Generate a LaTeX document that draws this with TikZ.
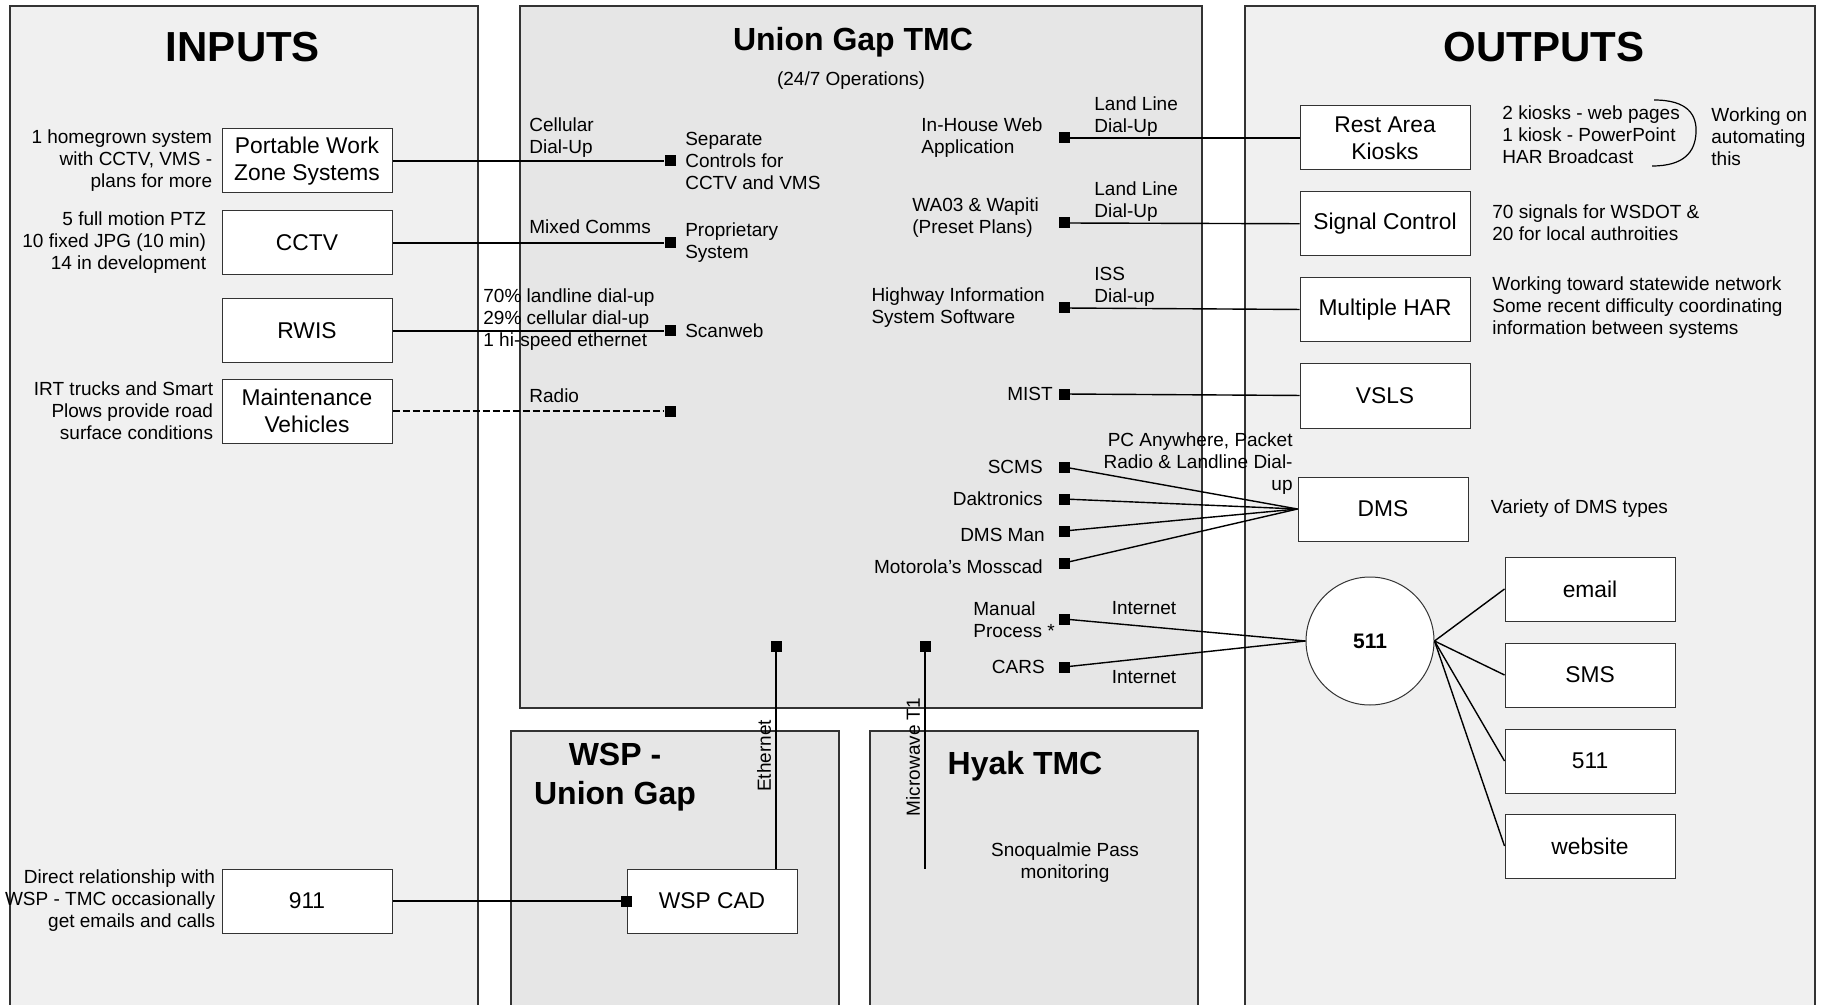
\documentclass[tikz,border=0pt]{standalone}
\usepackage{fontspec}
\setmainfont{Liberation Sans}
\usetikzlibrary{positioning, calc}
\definecolor{panelLight}{HTML}{F0F0F0}
\definecolor{panelGrey}{HTML}{E6E6E6}

\begin{document}
\begin{tikzpicture}[
    x=0.5pt, y=-0.5pt,
    panel/.style={draw=black!80, line width=0.8pt},
    box/.style={rectangle, draw=black!80, fill=white, line width=0.5pt, minimum width=85pt, minimum height=32pt, align=center, inner sep=1pt, font=\fontsize{11.4}{13.5}\selectfont},
    note/.style={inner sep=0pt, font=\fontsize{9.5}{11}\selectfont},
    term/.style={rectangle, fill=black, minimum size=5.5pt, inner sep=0pt},
    link/.style={line width=0.7pt},
    radiolink/.style={line width=1.3pt, dash pattern=on 3.5pt off 1.5pt},
    bigtitle/.style={font=\bfseries\fontsize{21}{24}\selectfont},
    subtitle/.style={align=center, font=\bfseries\fontsize{16}{19.5}\selectfont},
]
    \useasboundingbox (0,0) rectangle (1824,1005);

    % Panels
    \filldraw[panel, fill=panelLight] (10,6) rectangle (478,1015);
    \filldraw[panel, fill=panelGrey] (520,6) rectangle (1202,708);
    \filldraw[panel, fill=panelLight] (1245,6) rectangle (1815,1015);
    \filldraw[panel, fill=panelGrey] (511,731) rectangle (839,1015);
    \filldraw[panel, fill=panelGrey] (870,731) rectangle (1198,1015);

    % Titles
    \node[bigtitle] (inTitle) at (243,47) {INPUTS};
    \node[bigtitle] (outTitle) at (1544,47) {OUTPUTS};
    \node[subtitle] (tmcTitle) at (853,42) {Union Gap TMC};
    \node[note] (tmcOps) at (851,81) {(24/7 Operations)};
    \node[subtitle] (wspTitle) at (615,777) {WSP -\\Union Gap};
    \node[subtitle] (hyakTitle) at (1025,766) {Hyak TMC};
    \node[note, align=center] (hyakNote) at (1065,863) {Snoqualmie Pass\\monitoring};

    % Inputs
    \node[box] (pwz) at (307,161) {Portable Work\\Zone Systems};
    \node[box] (cctv) at (307,243) {CCTV};
    \node[box] (rwis) at (307,331) {RWIS};
    \node[box] (maint) at (307,411) {Maintenance\\Vehicles};
    \node[box] (nine) at (307,901) {911};
    \node[note, align=right, left=4.5pt of pwz] (pwzNote) {1 homegrown system\\with CCTV, VMS -\\plans for more};
    \node[note, align=right, left=7.5pt of cctv] (cctvNote) {5 full motion PTZ\\10 fixed JPG (10 min)\\14 in development};
    \node[note, align=right, left=4pt of maint] (maintNote) {IRT trucks and Smart\\Plows provide road\\surface conditions};
    \node[note, align=right, left=3pt of nine] (nineNote) {Direct relationship with\\WSP - TMC occasionally\\get emails and calls};

    % WSP
    \node[box] (cad) at (712,901) {WSP CAD};
    \node[term] (tCad) at (cad.west) {};

    % TMC terminals, input side
    \node[term] (tPwz) at (670,161) {};
    \node[term] (tCctv) at (670,243) {};
    \node[term] (tRwis) at (670,331) {};
    \node[term] (tMaint) at (670,411) {};
    \node[note, align=left, right=4.5pt of tPwz] (pwzSys) {Separate\\Controls for\\CCTV and VMS};
    \node[note, align=left, right=4.5pt of tCctv] (cctvSys) {Proprietary\\System};
    \node[note, right=4.5pt of tRwis] (rwisSys) {Scanweb};
    \node[note, anchor=west, align=left] (pwzComm) at (529,138) {Cellular\\Dial-Up};
    \node[note, anchor=west] (cctvComm) at (529,227) {Mixed Comms};
    \node[note, anchor=west, align=left] (rwisComm) at (483,320) {70\% landline dial-up\\29\% cellular dial-up\\1 hi-speed ethernet};
    \node[note, anchor=west] (maintComm) at (529,396) {Radio};

    % TMC terminals, output side
    \node[term] (tWeb) at (1064,138) {};
    \node[term] (tWapiti) at (1064,223) {};
    \node[term] (tHis) at (1064,308) {};
    \node[term] (tMist) at (1064,394) {};
    \node[term] (tScms) at (1064,467) {};
    \node[term] (tDak) at (1064,499) {};
    \node[term] (tDmsMan) at (1064,531) {};
    \node[term] (tMoss) at (1064,563) {};
    \node[term] (tManual) at (1064,619) {};
    \node[term] (tCars) at (1064,667) {};
    \node[term] (tEth) at (776,646) {};
    \node[term] (tMicro) at (925,646) {};
    \coordinate (microEnd) at (925,869);

    \node[note, anchor=west, align=left] (webSys) at (921,138) {In-House Web\\Application};
    \node[note, anchor=west, align=left] (wapSys) at (912,218) {WA03 \& Wapiti\\(Preset Plans)};
    \node[note, align=left, left=6.5pt of tHis] (hisSys) {Highway Information\\System Software};
    \node[note, left=2.5pt of tMist] (mistSys) {MIST};
    \node[note, left=7.5pt of tScms] (scmsSys) {SCMS};
    \node[note, left=7.5pt of tDak] (dakSys) {Daktronics};
    \node[note, left=6.5pt of tDmsMan, yshift=-2pt] (dmsManSys) {DMS Man};
    \node[note, left=7.5pt of tMoss, yshift=-2pt] (mossSys) {Motorola's Mosscad};
    \node[note, anchor=west, align=left] (manualSys) at (973,620) {Manual\\Process *};
    \node[note, left=6.5pt of tCars] (carsSys) {CARS};

    \node[note, anchor=west, align=left] (webComm) at (1094,117) {Land Line\\Dial-Up};
    \node[note, anchor=west, align=left] (wapComm) at (1094,202) {Land Line\\Dial-Up};
    \node[note, anchor=west, align=left] (hisComm) at (1094,287) {ISS\\Dial-up};
    \node[note, anchor=east, align=right] (dmsComm) at (1293,464) {PC Anywhere, Packet\\Radio \& Landline Dial-\\up};
    \node[note] (manualComm) at (1144,608) {Internet};
    \node[note] (carsComm) at (1144,677) {Internet};
    \node[note, rotate=90] (ethComm) at (764,756) {Ethernet};
    \node[note, rotate=90] (microComm) at (913,757) {Microwave T1};

    % Outputs
    \node[box] (kiosk) at (1385,138) {Rest Area\\Kiosks};
    \node[box, below=10.5pt of kiosk] (signal) {Signal Control};
    \node[box, below=10.5pt of signal] (har) {Multiple HAR};
    \node[box, below=10.5pt of har] (vsls) {VSLS};
    \node[box] (dms) at (1383,509) {DMS};
    \node[circle, draw=black!80, fill=white, line width=0.5pt, minimum size=64pt, inner sep=0pt, font=\bfseries\fontsize{10.5}{12}\selectfont] (hub) at (1370,641) {511};
    \node[box] (email) at (1590,589) {email};
    \node[box, below=10.5pt of email] (sms) {SMS};
    \node[box, below=10.5pt of sms] (phone) {511};
    \node[box, below=10pt of phone] (website) {website};

    \node[note, anchor=west, align=left] (kioskNote) at (1502,135) {2 kiosks - web pages\\1 kiosk - PowerPoint\\HAR Broadcast};
    \draw[line width=0.6pt] (1654,100) .. controls (1688,100) and (1697,115) .. (1696,133)
        .. controls (1695,152) and (1684,166) .. (1652,166);
    \node[note, anchor=west, align=left] (autoNote) at (1711,137) {Working on\\automating\\this};
    \node[note, anchor=west, align=left] (signalNote) at (1492,223) {70 signals for WSDOT \&\\20 for local authroities};
    \node[note, anchor=west, align=left] (harNote) at (1492,308) {Working toward statewide network\\Some recent difficulty coordinating\\information between systems};
    \node[note, right=11pt of dms] (dmsNote) {Variety of DMS types};

    % Connectors
    \draw[link] (pwz) -- (tPwz);
    \draw[link] (cctv) -- (tCctv);
    \draw[link] (rwis) -- (tRwis);
    \draw[radiolink] (maint) -- (tMaint);
    \draw[link] (nine) -- (tCad);
    \draw[link] (tEth) -- (tEth |- cad.north);
    \draw[link] (tMicro) -- (microEnd);
    \draw[link] (tWeb) -- (kiosk);
    \draw[link] (tWapiti) -- (signal);
    \draw[link] (tHis) -- (har);
    \draw[link] (tMist) -- (vsls);
    \foreach \t in {tScms, tDak, tDmsMan, tMoss}
        \draw[link] (\t) -- (dms.west);
    \draw[link] (tManual) -- (hub.west);
    \draw[link] (tCars) -- (hub.west);
    \foreach \b in {email, sms, phone, website}
        \draw[link] (hub.east) -- (\b.west);
\end{tikzpicture}
\end{document}
